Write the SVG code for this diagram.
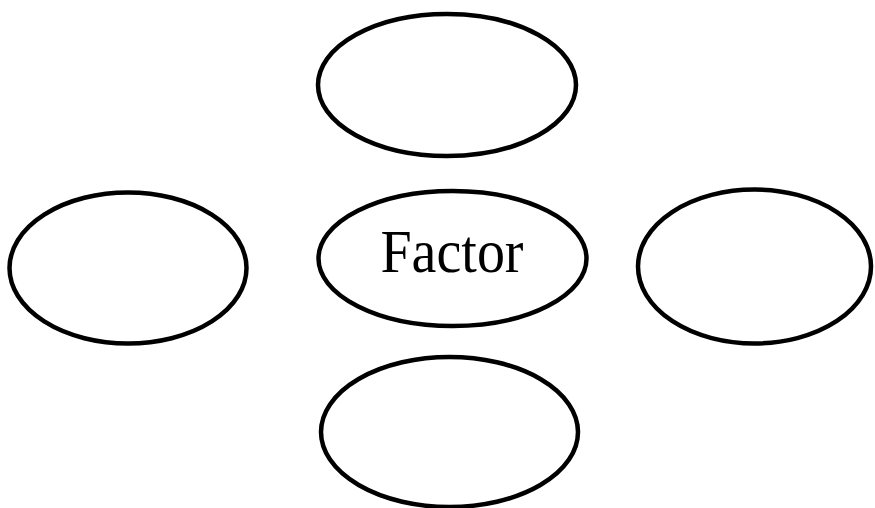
<svg xmlns="http://www.w3.org/2000/svg" width="875" height="508" viewBox="0 0 875 508">
  <style>
    .node { fill: #ffffff; stroke: #000000; stroke-width: 4.5; }
    .label { font-family: "Liberation Serif", "Times New Roman", serif; font-size: 56px; fill: #000000; text-anchor: middle; }
  </style>
  <rect x="0" y="0" width="875" height="508" fill="#ffffff"/>
  <g id="connectors"></g>
  <g id="node-top">
    <ellipse class="node" cx="447" cy="85" rx="129" ry="71"/>
  </g>
  <g id="node-center">
    <ellipse class="node" cx="452.5" cy="258.5" rx="134" ry="67.5"/>
    <text class="label" transform="translate(452,272) scale(1,1.1)" x="0" y="0">Factor</text>
  </g>
  <g id="node-left">
    <ellipse class="node" cx="128" cy="268" rx="118.5" ry="75.5"/>
  </g>
  <g id="node-right">
    <ellipse class="node" cx="754.5" cy="266.5" rx="116.5" ry="77"/>
  </g>
  <g id="node-bottom">
    <ellipse class="node" cx="449.5" cy="432" rx="128.5" ry="75"/>
  </g>
</svg>
